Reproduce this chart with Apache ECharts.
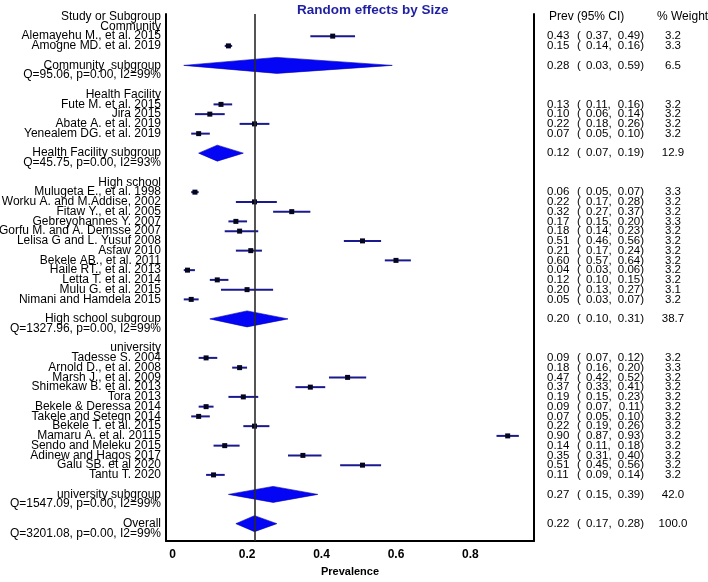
<!DOCTYPE html>
<html><head><meta charset="utf-8">
<script src="https://cdn.jsdelivr.net/npm/echarts@6/dist/echarts.min.js"></script>
<style>html,body{margin:0;padding:0;background:#fff}#c{width:708px;height:582px}</style>
</head><body><div id="c"></div>
<script>
const groupNames = ['Community', 'Health Facility', 'High school', 'university'];
const groupSizes = [2, 4, 12, 13];
const studies = [
  'Alemayehu M., et al. 2015', 'Amogne MD. et al. 2019',
  'Fute M. et al. 2015', 'Jira 2015', 'Abate A. et al. 2019', 'Yenealem DG. et al. 2019',
  'Mulugeta E., et al. 1998', 'Worku A. and M.Addise, 2002', 'Fitaw Y., et al. 2005', 'Gebreyohannes Y. 2007',
  'Gorfu M. and A. Demsse 2007', 'Lelisa G and L. Yusuf 2008', 'Asfaw 2010', 'Bekele AB., et al. 2011',
  'Haile RT., et al. 2013', 'Letta T. et al. 2014', 'Mulu G. et al. 2015', 'Nimani and Hamdela 2015',
  'Tadesse S. 2004', 'Arnold D., et al. 2008', 'Marsh J., et al. 2009', 'Shimekaw B. et al. 2013',
  'Tora 2013', 'Bekele & Deressa 2014', 'Takele and Setegn 2014', 'Bekele T. et al. 2015',
  'Mamaru A. et al. 20115', 'Sendo and Meleku 2015', 'Adinew and Hagos 2017', 'Galu SB. et al 2020', 'Tantu T. 2020'
];
const prev   = [0.43,0.15, 0.13,0.10,0.22,0.07, 0.06,0.22,0.32,0.17,0.18,0.51,0.21,0.60,0.04,0.12,0.20,0.05, 0.09,0.18,0.47,0.37,0.19,0.09,0.07,0.22,0.90,0.14,0.35,0.51,0.11];
const ciLow  = [0.37,0.14, 0.11,0.06,0.18,0.05, 0.05,0.17,0.27,0.15,0.14,0.46,0.17,0.57,0.03,0.10,0.13,0.03, 0.07,0.16,0.42,0.33,0.15,0.07,0.05,0.19,0.87,0.11,0.31,0.45,0.09];
const ciHigh = [0.49,0.16, 0.16,0.14,0.26,0.10, 0.07,0.28,0.37,0.20,0.23,0.56,0.24,0.64,0.06,0.15,0.27,0.07, 0.12,0.20,0.52,0.41,0.23,0.11,0.10,0.26,0.93,0.18,0.40,0.56,0.14];
const weights = [3.2,3.3, 3.2,3.2,3.2,3.2, 3.3,3.2,3.2,3.3,3.2,3.2,3.2,3.2,3.2,3.2,3.1,3.2, 3.2,3.3,3.2,3.2,3.2,3.2,3.2,3.2,3.2,3.2,3.2,3.2,3.2];
const subgroupNames = ['Community  subgroup', 'Health Facility subgroup', 'High school subgroup', 'university subgroup'];
const subPrev = [0.28, 0.12, 0.20, 0.27];
const subLow = [0.03, 0.07, 0.10, 0.15];
const subHigh = [0.59, 0.19, 0.31, 0.39];
const subWeight = [6.5, 12.9, 38.7, 42.0];
const subHet = ['Q=95.06, p=0.00, I2=99%', 'Q=45.75, p=0.00, I2=93%', 'Q=1327.96, p=0.00, I2=99%', 'Q=1547.09, p=0.00, I2=99%'];
const overallLabel = 'Overall';
const overallPrev = 0.22, overallLow = 0.17, overallHigh = 0.28, overallWeight = 100.0;
const overallHet = 'Q=3201.08, p=0.00, I2=99%';
const xTicks = [0, 0.2, 0.4, 0.6, 0.8];
const headerLeft = 'Study or Subgroup', headerPrev = 'Prev (95% CI)', headerWeight = '% Weight';
const titleText = 'Random effects by Size';
const xName = 'Prevalence';

// ---- build row layout ----
const leftTexts = [];   // {row, text}
const studyRows = [];   // [est,row,lo,hi]
const diamondRows = [];
const tableRows = [];   // {row, est, lo, hi, wt}
let r = 0;
leftTexts.push({row: r, text: headerLeft});
r = 1;
let si = 0;
groupNames.forEach((g, gi) => {
  leftTexts.push({row: r, text: g}); r++;
  for (let k = 0; k < groupSizes[gi]; k++) {
    leftTexts.push({row: r, text: studies[si]});
    studyRows.push([prev[si], r, ciLow[si], ciHigh[si]]);
    tableRows.push({row: r, est: prev[si], lo: ciLow[si], hi: ciHigh[si], wt: weights[si]});
    si++; r++;
  }
  r++;
  leftTexts.push({row: r, text: subgroupNames[gi]});
  diamondRows.push([subPrev[gi], r, subLow[gi], subHigh[gi]]);
  tableRows.push({row: r, est: subPrev[gi], lo: subLow[gi], hi: subHigh[gi], wt: subWeight[gi]});
  r++;
  leftTexts.push({row: r, text: subHet[gi]}); r++;
  r++;
});
leftTexts.push({row: r, text: overallLabel});
diamondRows.push([overallPrev, r, overallLow, overallHigh]);
tableRows.push({row: r, est: overallPrev, lo: overallLow, hi: overallHigh, wt: overallWeight});
r++;
leftTexts.push({row: r, text: overallHet});

const FONT = '"Liberation Sans", Arial, sans-serif';
const f2 = v => v.toFixed(2);
const xMin = -0.0177, xMax = 0.9707;
const yMin = -0.27, yMax = 53.79;

function txt(x, y, text, align, size, weight) {
  return {type: 'text', x: x, y: y, style: {text: text, fill: '#000', align: align, verticalAlign: 'middle',
    fontSize: size, fontFamily: FONT, fontWeight: weight || 'normal'}};
}

const chart = echarts.init(document.getElementById('c'), null, {renderer: 'canvas'});
chart.setOption({
  backgroundColor: '#fff',
  animation: false,
  title: {text: titleText, left: 292, top: -2,
    textStyle: {color: '#1f1fa3', fontSize: 13.5, fontWeight: 'bold', fontFamily: FONT}},
  grid: {left: 166, right: 174, top: 14, bottom: 29},
  xAxis: {type: 'value', min: xMin, max: xMax,
    axisLine: {show: true, onZero: false, lineStyle: {color: '#000', width: 2}},
    axisTick: {show: false}, splitLine: {show: false},
    axisLabel: {customValues: xTicks, formatter: v => (v === 0 ? '0' : String(v)), fontSize: 12, fontWeight: 'bold',
      color: '#000', fontFamily: FONT, margin: 8},
    name: xName, nameLocation: 'middle', nameGap: 18,
    nameTextStyle: {fontSize: 11, fontWeight: 'bold', color: '#000', fontFamily: FONT}},
  yAxis: [
    {type: 'value', min: yMin, max: yMax, inverse: true,
      axisLine: {show: true, onZero: false, lineStyle: {color: '#000', width: 2}},
      axisLabel: {show: false}, axisTick: {show: false}, splitLine: {show: false}},
    {type: 'value', min: yMin, max: yMax, inverse: true, position: 'right',
      axisLine: {show: true, onZero: false, lineStyle: {color: '#000', width: 2}},
      axisLabel: {show: false}, axisTick: {show: false}, splitLine: {show: false}}
  ],
  series: [
    {
      type: 'custom', name: 'diamonds', data: diamondRows, encode: {x: [0, 2, 3], y: 1}, z: 3,
      renderItem: (params, api) => {
        const row = api.value(1);
        const c = api.coord([api.value(0), row]);
        const l = api.coord([api.value(2), row]);
        const h = api.coord([api.value(3), row]);
        return {type: 'polygon', shape: {points: [[l[0], c[1]], [c[0], c[1] - 8], [h[0], c[1]], [c[0], c[1] + 8]]},
          style: {fill: '#0505f5', stroke: '#0000b0', lineWidth: 0.6}};
      }
    },
    {
      type: 'custom', name: 'studies', data: studyRows, encode: {x: [0, 2, 3], y: 1}, z: 4,
      renderItem: (params, api) => {
        const row = api.value(1);
        const c = api.coord([api.value(0), row]);
        const l = api.coord([api.value(2), row]);
        const h = api.coord([api.value(3), row]);
        return {type: 'group', children: [
          {type: 'line', shape: {x1: l[0], y1: c[1], x2: h[0], y2: c[1]}, style: {stroke: '#1a1a8e', lineWidth: 2}},
          {type: 'rect', shape: {x: c[0] - 2.5, y: c[1] - 2.5, width: 5, height: 5}, style: {fill: '#050520'}}
        ]};
      },
      markLine: {silent: true, symbol: ['none', 'none'], label: {show: false},
        lineStyle: {color: '#2a2a2a', width: 1.6, type: 'solid'},
        data: [{xAxis: overallPrev}]}
    },
    {
      type: 'custom', name: 'leftText', data: leftTexts.map(t => [0, t.row]), z: 5,
      renderItem: (params, api) => {
        const y = api.coord([0, api.value(1)])[1];
        return txt(161, y, leftTexts[params.dataIndex].text, 'right', 12);
      }
    },
    {
      type: 'custom', name: 'tableText', data: tableRows.map(t => [0, t.row]), z: 5,
      renderItem: (params, api) => {
        const t = tableRows[params.dataIndex];
        const y = api.coord([0, api.value(1)])[1];
        return {type: 'group', children: [
          txt(547, y, f2(t.est), 'left', 11.5),
          txt(577, y, '(', 'left', 11.5),
          txt(586, y, f2(t.lo) + ',', 'left', 11.5),
          txt(644, y, f2(t.hi) + ')', 'right', 11.5),
          txt(673, y, t.wt.toFixed(1), 'center', 11.5)
        ]};
      }
    },
    {
      type: 'custom', name: 'tableHeader', data: [[0, 0]], z: 5,
      renderItem: (params, api) => {
        const y = api.coord([0, api.value(1)])[1];
        return {type: 'group', children: [
          txt(549, y, headerPrev, 'left', 12),
          txt(657, y, headerWeight, 'left', 12)
        ]};
      }
    }
  ]
});
</script>
</body></html>
